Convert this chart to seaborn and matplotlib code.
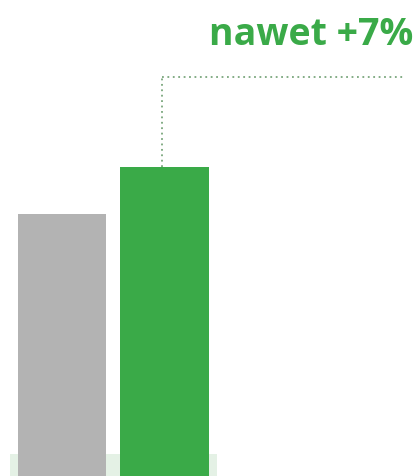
import matplotlib
matplotlib.use("Agg")
import matplotlib.pyplot as plt
import seaborn as sns
import pandas as pd

# data
categories = ["przed", "po"]
values = [100, 107]
bar_colors = ["#b3b3b3", "#3aaa48"]
label_text = "nawet +7%"

df = pd.DataFrame({"kategoria": categories, "wartosc": values})

sns.set_theme(style="white")
plt.rcParams["font.family"] = ["Open Sans", "DejaVu Sans"]

fig = plt.figure(figsize=(4.19, 4.77), dpi=100)
ax = fig.add_axes([0, 0, 1, 1])

sns.barplot(data=df, x="kategoria", y="wartosc", hue="kategoria", palette=bar_colors,
            width=0.86, legend=False, ax=ax, zorder=2, saturation=1, linewidth=0)

ymin, ymax = 61.0, 132.1
xmin, xmax = -0.605, 3.483
ax.set_xlim(xmin, xmax)
ax.set_ylim(ymin, ymax)

# light band at the base
ax.fill_between([-0.507, 1.512], ymin, ymin + 3.3, color="#e4f1e5", zorder=0, lw=0)

# dotted callout line from the green bar top
xv = 1 - 0.025
y_line = 120.5
ax.plot([xv, xv], [values[1], y_line], linestyle=(0, (1, 2)), color="#79a67c", lw=1.3, zorder=3)
ax.plot([xv, 3.327], [y_line, y_line], linestyle=(0, (1, 2)), color="#79a67c", lw=1.3, zorder=3)

ax.text(3.43, 125.4, label_text, ha="right", va="baseline", color="#3aaa48",
        fontsize=27, fontweight="bold", family=["Open Sans", "DejaVu Sans"])

ax.set_axis_off()
fig.savefig("out.png", dpi=100, facecolor="white")
